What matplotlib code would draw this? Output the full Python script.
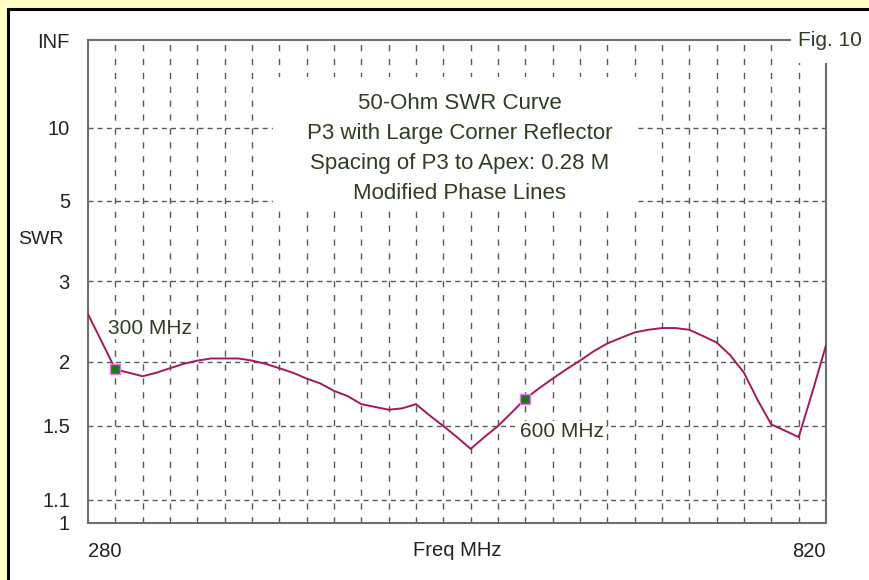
import matplotlib
matplotlib.use('Agg') # no display needed
import matplotlib.pyplot as plt # import plotting library
import matplotlib.patches as patches # import rectangle shapes
import numpy as np # import scientific computing library

# SWR sweep, 10 MHz steps
freq_mhz = list(range(280, 830, 10))
swr = [2.52, 2.20, 1.93, 1.90, 1.87, 1.90, 1.94, 1.98, 2.01, 2.03,
       2.03, 2.03, 2.01, 1.98, 1.94, 1.90, 1.85, 1.81, 1.75, 1.71,
       1.65, 1.63, 1.61, 1.62, 1.65, 1.57, 1.50, 1.43, 1.36, 1.43,
       1.50, 1.59, 1.69, 1.77, 1.85, 1.93, 2.01, 2.10, 2.18, 2.24,
       2.30, 2.33, 2.35, 2.35, 2.33, 2.26, 2.19, 2.06, 1.90, 1.68,
       1.51, 1.47, 1.43, 1.74, 2.16]

marked_freq = [300, 600] # highlighted frequencies
marked_swr = [1.93, 1.69]
marked_text = ['300 MHz', '600 MHz']

swr_ticks = [1, 1.1, 1.5, 2, 3, 5, 10, 1e6] # 1e6 stands in for infinity
swr_tick_labels = ['1', '1.1', '1.5', '2', '3', '5', '10', 'INF']
swr_grid = [1.1, 1.5, 2, 3, 5, 10]
freq_grid = list(range(300, 801, 20))

title_lines = ['50-Ohm SWR Curve',
               'P3 with Large Corner Reflector',
               'Spacing of P3 to Apex: 0.28 M',
               'Modified Phase Lines']

TEXT_GREEN = '#2f3d22' # dark olive text
GRID_GREY = '#585858'
CURVE = '#a3195b'

plt.rcParams['font.family'] = ['Liberation Sans', 'DejaVu Sans']


def to_rho(s): # SWR -> reflection coefficient
    s = np.asarray(s, dtype=float)
    return (s - 1.0) / (s + 1.0)


def from_rho(r): # reflection coefficient -> SWR
    r = np.clip(np.asarray(r, dtype=float), -0.999999, 0.9999999)
    return (1.0 + r) / (1.0 - r)


fig = plt.figure(figsize=(8.7, 5.8), dpi=100, facecolor='#ffffc4')

# white panel with black frame over the yellow page
fig.add_artist(patches.Rectangle((8.5 / 870, -0.1), 1.2, (580 - 9.5) / 580 + 0.1,
                                 transform=fig.transFigure, facecolor='white',
                                 edgecolor='black', linewidth=2.2, zorder=0))

ax = fig.add_axes([88 / 870, 57.5 / 580, 738 / 870, 482.5 / 580])
ax.set_yscale('function', functions=(to_rho, from_rho))
ax.set_xlim(280, 820)
ax.set_ylim(1, 1e6)

for f in freq_grid: # vertical dashed grid
    ax.axvline(f, color=GRID_GREY, linewidth=1, dashes=(4.5, 5.5), zorder=1)
for s in swr_grid: # horizontal dashed grid
    ax.axhline(s, color=GRID_GREY, linewidth=1, dashes=(3.6, 3.0), zorder=1)

ax.plot(freq_mhz, swr, color=CURVE, linewidth=1.4, zorder=3) # SWR curve
ax.plot(marked_freq, marked_swr, linestyle='none', marker='s', markersize=6.5,
        markerfacecolor='#1c7a1c', markeredgecolor='#e878e8', markeredgewidth=1.0, zorder=4)

offsets = [(-5, 29.5), (-3.6, -23.8)] # label offsets in points
for f, s, t, off in zip(marked_freq, marked_swr, marked_text, offsets):
    ax.annotate(t, xy=(f, s), xytext=off, textcoords='offset points',
                ha='left', va='center', fontsize=15, color=TEXT_GREEN, zorder=5,
                bbox=dict(facecolor='white', edgecolor='none', pad=1.0))

# white block behind the title lines
ax.add_patch(patches.Rectangle((0.2507, 0.6456), 0.4932, 0.2777, transform=ax.transAxes,
                               facecolor='white', edgecolor='none', zorder=2))
for i, line in enumerate(title_lines):
    ax.text(0.504, 0.8694 - i * 0.0622, line, transform=ax.transAxes, ha='center',
            va='center', fontsize=16, color=TEXT_GREEN, zorder=5)

# figure number in the top right corner
ax.add_patch(patches.Rectangle((0.9526, 0.9523), 0.2, 0.1, transform=ax.transAxes,
                               facecolor='white', edgecolor='none', zorder=3, clip_on=False))
ax.text(0.962, 1.0, 'Fig. 10', transform=ax.transAxes, ha='left', va='center',
        fontsize=15, color=TEXT_GREEN, zorder=5, clip_on=False)

ax.text(-0.0949, 0.5855, 'SWR', transform=ax.transAxes, ha='left', va='center',
        fontsize=14, color='#222222')
ax.text(0.5, -0.058, 'Freq MHz', transform=ax.transAxes, ha='center', va='center',
        fontsize=14.5, color='#222222')

ax.set_yticks(swr_ticks)
ax.set_yticklabels(swr_tick_labels)
ax.yaxis.set_minor_locator(matplotlib.ticker.NullLocator())
ax.set_xticks([280, 820])
ax.set_xticklabels(['280', '820'])
ax.get_xticklabels()[0].set_ha('left')
ax.get_xticklabels()[1].set_ha('right')
ax.tick_params(axis='y', length=0, pad=13, labelsize=14.5, labelcolor='#222222')
ax.tick_params(axis='x', length=0, pad=14, labelsize=14.5, labelcolor='#222222')

for sp in ax.spines.values():
    sp.set_color('#6e6e6e')
    sp.set_linewidth(1.5)

plt.savefig('out.png', dpi=100, facecolor=fig.get_facecolor())
